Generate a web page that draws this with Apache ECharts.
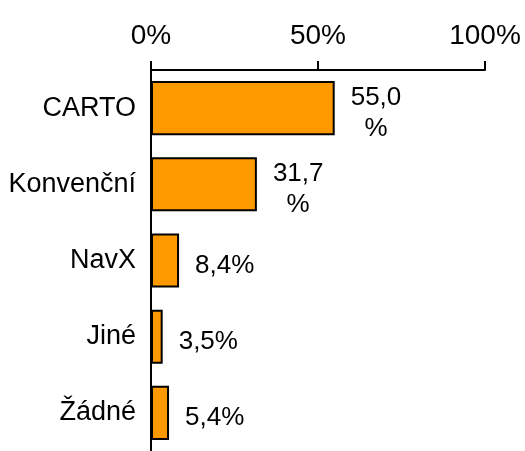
<!doctype html>
<html lang="cs">
<head>
    <meta charset="UTF-8">
    <title>Mapovací systémy</title>
    <style>
        *{margin: 0; padding: 0}
        body{background: #fff}
    </style>
</head>
<body>
<div id="block" style="width:525px;height:451px"></div>

<script src="https://cdn.jsdelivr.net/npm/echarts@6/dist/echarts.min.js"></script>
<script>
    // data
    const categories = ['CARTO', 'Konvenční', 'NavX', 'Jiné', 'Žádné'];
    const values = [55.0, 31.7, 8.4, 3.5, 5.4];
    const valueTexts = ['55,0\n%', '31,7\n%', '8,4%', '3,5%', '5,4%'];
    const tickLabels = {0: '0%', 50: '50%', 100: '100%'};

    const chart = echarts.init(document.getElementById('block'));
    const font = 'Arial, "Liberation Sans", sans-serif';

    let option = {
        animation: false,
        grid: {left: 151, right: 40, top: 70, bottom: -7, containLabel: false},
        xAxis: {
            type: 'value',
            position: 'top',
            min: 0, max: 100, interval: 50,
            axisLine: {show: true, lineStyle: {color: '#000', width: 2}},
            axisTick: {show: true, inside: false, length: 9, lineStyle: {color: '#000', width: 2}},
            splitLine: {show: false},
            axisLabel: {
                margin: 20,
                fontSize: 28, color: '#000', fontFamily: font,
                formatter: v => tickLabels[v]
            }
        },
        yAxis: {
            type: 'category',
            inverse: true,
            data: categories,
            axisLine: {show: true, lineStyle: {color: '#000', width: 2}},
            axisTick: {show: false},
            axisLabel: {
                margin: 15,
                fontSize: 27, color: '#000', fontFamily: font,
                padding: [0, 0, 16, 0]
            }
        },
        series: [{
            type: 'bar',
            data: values,
            barCategoryGap: '29%',
            itemStyle: {color: '#FF9900', borderColor: '#000', borderWidth: 2},
            label: {
                show: true,
                position: 'right',
                distance: 16,
                offset: [0, 5],
                color: '#000',
                fontSize: 26,
                fontFamily: font,
                lineHeight: 31,
                formatter: p => valueTexts[p.dataIndex].split('\n').map(s => '{c|' + s + '}').join('\n'),
                rich: {c: {align: 'center', fontSize: 26, lineHeight: 31, fontFamily: font, color: '#000'}}
            }
        }]
    };
    chart.setOption(option);
</script>
</body>
</html>
